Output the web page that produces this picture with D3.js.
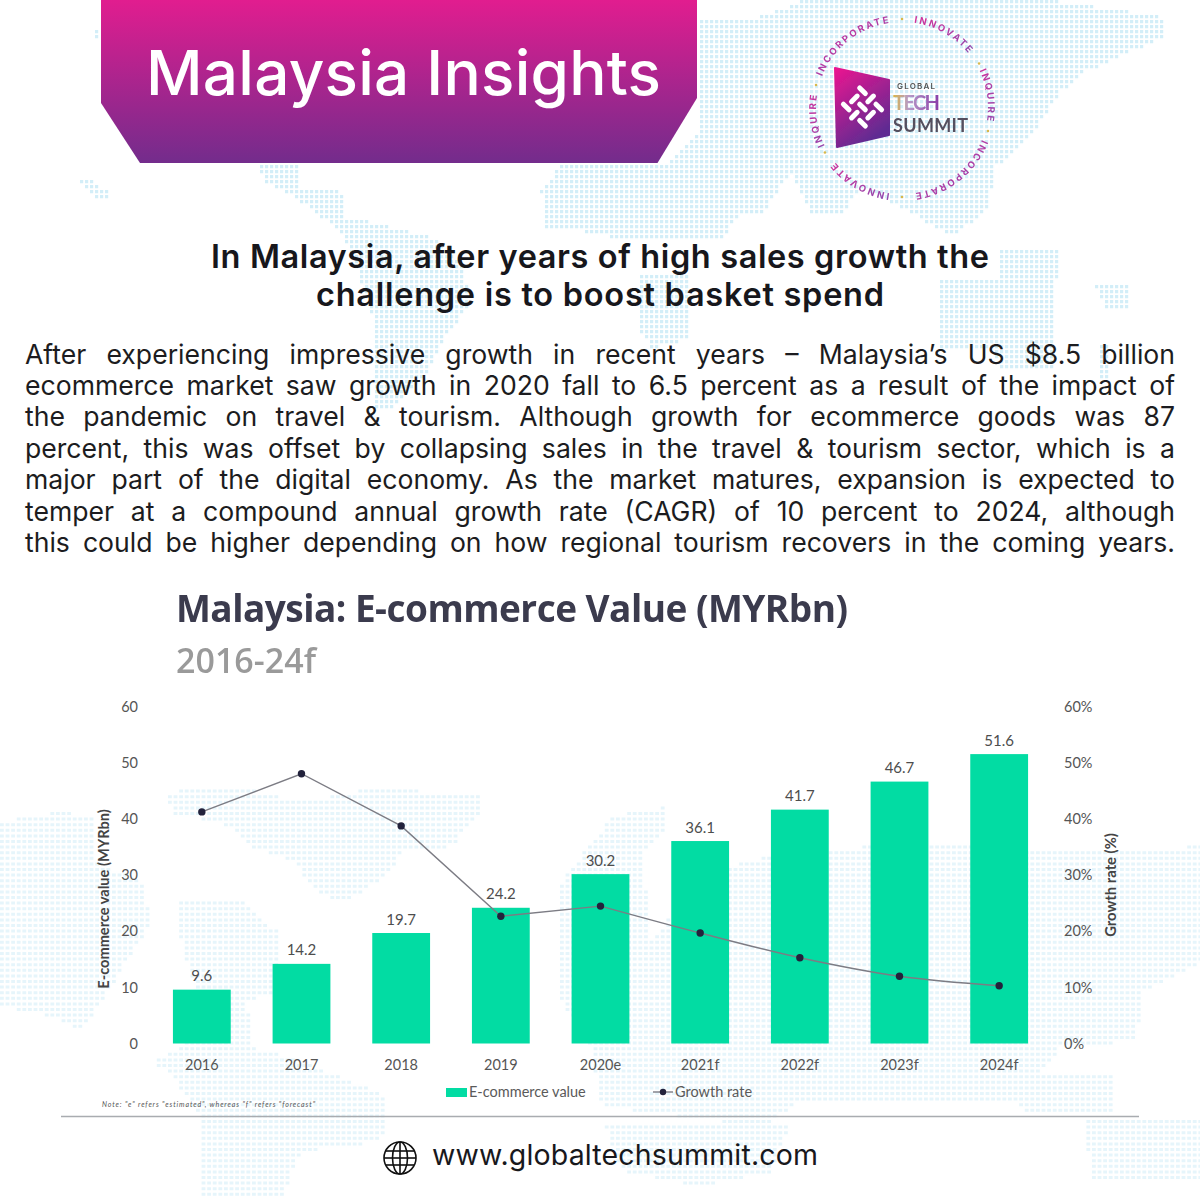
<!DOCTYPE html>
<html>
<head>
<meta charset="utf-8">
<title>Malaysia Insights</title>
<script src="https://cdn.jsdelivr.net/npm/d3@7"></script>
<style>
  html, body { margin: 0; padding: 0; background: #fff; }
  svg { display: block; }
  .axis path, .axis line { display: none; }
  .axis text { font-family: Lato, sans-serif; font-size: 14.5px; fill: #555; }
</style>
</head>
<body>
<svg id="chart" width="1200" height="1200"></svg>
<script>
// Chart values
const categories = ['2016', '2017', '2018', '2019', '2020e', '2021f', '2022f', '2023f', '2024f'];
const ecommerceValue = [9.6, 14.2, 19.7, 24.2, 30.2, 36.1, 41.7, 46.7, 51.6];
const growthRate = [41.3, 48.1, 38.8, 22.7, 24.5, 19.7, 15.3, 12.0, 10.3];
const leftTicks = [0, 10, 20, 30, 40, 50, 60];
const rightTicks = [0, 10, 20, 30, 40, 50, 60];

// Page text
const headingLines = [
    'In Malaysia, after years of high sales growth the',
    'challenge is to boost basket spend'
];
const bodyLines = [
    'After experiencing impressive growth in recent years \u2013 Malaysia\u2019s US $8.5 billion',
    'ecommerce market saw growth in 2020 fall to 6.5 percent as a result of the impact of',
    'the pandemic on travel & tourism. Although growth for ecommerce goods was 87',
    'percent, this was offset by collapsing sales in the travel & tourism sector, which is a',
    'major part of the digital economy. As the market matures, expansion is expected to',
    'temper at a compound annual growth rate (CAGR) of 10 percent to 2024, although',
    'this could be higher depending on how regional tourism recovers in the coming years.'
];
const ringWords = [
    ['INNOVATE', 30], ['INQUIRE', 82], ['INCORPORATE', 142],
    ['INNOVATE', 210], ['INQUIRE', 262], ['INCORPORATE', 322]
];
const ringDots = [0, 60, 105, 180, 240, 285];

// Dotted world map behind the page, rough outlines
const topMap = [
    [[698,20],[760,15],[800,0],[1060,0],[1160,15],[1165,35],[1130,50],[1085,70],[1060,90],[1040,120],[1020,145],[995,165],[985,210],[950,235],[900,205],[860,185],[840,215],[810,210],[790,170],[760,215],[740,210],[720,240],[660,235],[640,190],[698,130]],
    [[255,163],[300,165],[300,190],[340,190],[345,215],[370,220],[430,235],[460,260],[470,300],[445,335],[420,380],[390,410],[375,410],[375,330],[360,280],[340,230],[300,200],[265,180]],
    [[540,190],[560,163],[700,163],[700,240],[620,240],[600,232],[545,225]],
    [[640,275],[690,273],[690,337],[650,347],[640,330]],
    [[935,277],[1000,277],[1055,280],[1055,370],[1000,370],[990,347],[940,347]],
    [[1000,250],[1060,250],[1060,278],[1000,278]],
    [[1095,285],[1130,280],[1130,310],[1105,310]],
    [[1098,345],[1108,345],[1108,380],[1098,380]],
    [[75,176],[90,178],[110,192],[110,200],[95,200]],
    [[92,26],[98,26],[98,36],[92,36]]
];
const bottomMap = [
    [[0,820],[60,810],[90,815],[90,860],[140,880],[150,920],[100,1000],[80,1030],[50,1015],[0,1005]],
    [[165,790],[240,787],[300,800],[380,785],[440,793],[475,790],[480,810],[450,845],[400,850],[390,870],[345,900],[320,895],[290,860],[250,845],[220,820],[170,815]],
    [[176,897],[240,900],[275,930],[275,990],[245,1000],[250,1045],[300,1060],[385,1095],[380,1140],[300,1150],[280,1195],[200,1198],[200,1120],[170,1075],[150,1060],[180,1045],[200,1000],[180,950]],
    [[610,815],[665,805],[665,830],[640,850],[650,940],[700,870],[790,850],[950,840],[1060,850],[1200,845],[1200,960],[1140,990],[1135,1040],[1060,1045],[1010,1100],[800,1100],[760,1125],[640,1110],[600,1105],[590,1050],[560,1000],[560,880]],
    [[998,1070],[1112,1072],[1112,1110],[1020,1110]],
    [[1082,1120],[1200,1115],[1200,1180],[1090,1180]],
    [[603,1125],[787,1125],[770,1170],[700,1185],[620,1170]]
];

const svg = d3.select('#chart');
const defs = svg.append('defs');

function gradient(id, stops, x2, y2) {
    const g = defs.append('linearGradient')
        .attr('id', id)
        .attr('x1', 0).attr('y1', 0)
        .attr('x2', x2).attr('y2', y2);
    stops.forEach(s => g.append('stop').attr('offset', s[0]).attr('stop-color', s[1]));
}
gradient('bannerFill', [[0, '#e11d8f'], [1, '#732c8c']], 0, 1);
gradient('badgeFill', [[0, '#ec1590'], [1, '#5f2c92']], 0.5, 1);
gradient('techFill', [[0, '#d9b64a'], [0.35, '#b79ac8'], [1, '#8b3fa8']], 1, 0);
gradient('ringFill', [[0, '#d5309a'], [1, '#8d4cb0']], 1, 1);

defs.append('filter').attr('id', 'soft')
    .append('feGaussianBlur').attr('stdDeviation', 0.55);
defs.append('filter').attr('id', 'softer')
    .append('feGaussianBlur').attr('stdDeviation', 0.35);

svg.append('rect').attr('width', 1200).attr('height', 1200).attr('fill', '#fff');

// Background map: whole dots on a grid, kept where they fall inside an outline
function dotMap(polys, stepX, stepY, w, h, color) {
    let d = '';
    for (let gx = 0; gx < 1200; gx += stepX) {
        for (let gy = 0; gy < 1200; gy += stepY) {
            if (polys.some(p => d3.polygonContains(p, [gx, gy]))) {
                d += `M${gx},${gy}h${w}v${h}h${-w}Z`;
            }
        }
    }
    svg.append('path').attr('d', d).attr('fill', color);
}
dotMap(topMap, 5, 5, 3.2, 3.2, '#d3eef8');
dotMap(bottomMap, 5.6, 5.6, 3.8, 3, '#e6f5fb');

const polyPath = pts => 'M' + pts.map(p => p.join(',')).join('L') + 'Z';

// Stretch a single line of text to a given width
function fitLetters(sel, width) {
    const n = sel.text().length - 1;
    const w = sel.node().getComputedTextLength();
    sel.style('letter-spacing', `${(width - w) / n}px`);
    return sel;
}
function fitWords(sel, width) {
    const n = sel.text().split(' ').length - 1;
    const w = sel.node().getComputedTextLength();
    sel.style('word-spacing', `${(width - w) / n}px`);
    return sel;
}

// Banner
svg.append('path')
    .attr('d', polyPath([[101,0],[697,0],[697,98],[657.5,163],[140,163],[101,103]]))
    .attr('fill', 'url(#bannerFill)');
fitLetters(svg.append('text')
    .attr('x', 146).attr('y', 95)
    .attr('font-family', 'Inter, sans-serif')
    .attr('font-size', 62).attr('font-weight', 500)
    .attr('fill', '#fff')
    .text('Malaysia Insights'), 515);

// Logo
const logo = svg.append('g').attr('filter', 'url(#softer)');
logo.append('path')
    .attr('d', polyPath([[835,68],[889,80],[889,135],[837,147]]))
    .attr('fill', 'url(#badgeFill)')
    .attr('stroke', 'url(#badgeFill)')
    .attr('stroke-width', 2)
    .attr('stroke-linejoin', 'round');
const glyph = logo.append('g')
    .attr('transform', 'translate(862.5,107) rotate(45)')
    .attr('stroke', '#fff')
    .attr('stroke-linecap', 'round')
    .attr('stroke-width', 5);
d3.cross(d3.range(-1, 2), d3.range(-1, 2)).forEach(([i, j]) => {
    const flip = (i + j + 2) % 2 === 0;
    glyph.append('line')
        .attr('x1', i * 11.5 - (flip ? 4 : 0))
        .attr('x2', i * 11.5 + (flip ? 4 : 0))
        .attr('y1', j * 11.5 - (flip ? 0 : 4))
        .attr('y2', j * 11.5 + (flip ? 0 : 4));
});
fitLetters(logo.append('text').attr('x', 897).attr('y', 89)
    .attr('font-family', 'Inter, sans-serif').attr('font-size', 8).attr('font-weight', 600)
    .attr('fill', '#555').text('GLOBAL'), 38);
fitLetters(logo.append('text').attr('x', 893).attr('y', 110)
    .attr('font-family', '"Liberation Sans Narrow", Lato, sans-serif').attr('font-size', 20).attr('font-weight', 700)
    .attr('fill', 'url(#techFill)').text('TECH'), 47);
fitLetters(logo.append('text').attr('x', 893).attr('y', 131.5)
    .attr('font-family', '"Liberation Sans Narrow", Lato, sans-serif').attr('font-size', 18).attr('font-weight', 700)
    .attr('fill', '#55505f').text('SUMMIT'), 75);

// Ring of words round the logo
const ringR = 86;
const ringC = [902, 108];
defs.append('path').attr('id', 'ringPath')
    .attr('d', `M${ringC[0]},${ringC[1] - ringR}A${ringR},${ringR} 0 1 1 ${ringC[0] - 0.01},${ringC[1] - ringR}Z`);
const ring = logo.append('g');
ringWords.forEach(([word, angle]) => {
    ring.append('text')
        .attr('font-family', 'Inter, sans-serif')
        .attr('font-size', 9.5).attr('font-weight', 700)
        .attr('letter-spacing', 2.1)
        .attr('fill', 'url(#ringFill)')
        .attr('text-anchor', 'middle')
        .append('textPath')
        .attr('href', '#ringPath')
        .attr('startOffset', `${angle / 3.6}%`)
        .text(word);
});
ring.selectAll('circle').data(ringDots).enter().append('circle')
    .attr('cx', d => ringC[0] + (ringR + 3) * Math.sin(d * Math.PI / 180))
    .attr('cy', d => ringC[1] - (ringR + 3) * Math.cos(d * Math.PI / 180))
    .attr('r', 1.3)
    .attr('fill', '#d8b84c');

// Heading and body copy
const headingSpec = [[211, 268, 778], [316, 306, 568]];
headingLines.forEach((line, i) => {
    fitLetters(svg.append('text')
        .attr('x', headingSpec[i][0]).attr('y', headingSpec[i][1])
        .attr('font-family', 'Inter, sans-serif')
        .attr('font-size', 32.5).attr('font-weight', 600)
        .attr('fill', '#17171c')
        .text(line), headingSpec[i][2]);
});
bodyLines.forEach((line, i) => {
    fitWords(svg.append('text')
        .attr('x', 25).attr('y', 363.5 + i * 31.4)
        .attr('font-family', 'Inter, sans-serif')
        .attr('font-size', 26.6).attr('font-weight', 400)
        .attr('fill', '#1c1c20')
        .text(line), 1150);
});

// Chart title
fitLetters(svg.append('text')
    .attr('x', 176).attr('y', 622)
    .attr('font-family', '"Open Sans", sans-serif')
    .attr('font-size', 37).attr('font-weight', 700)
    .attr('fill', '#3a3a4e')
    .attr('filter', 'url(#soft)')
    .text('Malaysia: E-commerce Value (MYRbn)'), 672);
fitLetters(svg.append('text')
    .attr('x', 176).attr('y', 673)
    .attr('font-family', '"Open Sans", sans-serif')
    .attr('font-size', 34).attr('font-weight', 600)
    .attr('fill', '#9a9a9a')
    .attr('filter', 'url(#softer)')
    .text('2016-24f'), 140);

// Scales
const x = d3.scaleBand()
    .domain(categories)
    .range([152, 1049])
    .paddingInner(0.42)
    .paddingOuter(0.21);
const yValue = d3.scaleLinear().domain([0, 60]).range([1043.5, 707]);
const yGrowth = d3.scaleLinear().domain([0, 60]).range([1043.5, 707]);
const cx = d => x(d) + x.bandwidth() / 2;

// Bars and their labels
svg.append('g').selectAll('rect')
    .data(ecommerceValue).enter().append('rect')
    .attr('x', (d, i) => x(categories[i]))
    .attr('y', d => yValue(d))
    .attr('width', x.bandwidth())
    .attr('height', d => yValue(0) - yValue(d))
    .attr('fill', '#02dca3');
svg.append('g').selectAll('text')
    .data(ecommerceValue).enter().append('text')
    .attr('x', (d, i) => cx(categories[i]))
    .attr('y', d => yValue(d) - 8.5)
    .attr('text-anchor', 'middle')
    .attr('font-family', 'Lato, sans-serif')
    .attr('font-size', 15)
    .attr('fill', '#4d4d4d')
    .text(d => d.toFixed(1));

// Growth line: straight up to 2020e, slightly eased over the forecast years
const growthLinear = d3.line()
    .x(d => cx(d.cat)).y(d => yGrowth(d.val));
const growthCurved = d3.line()
    .x(d => cx(d.cat)).y(d => yGrowth(d.val))
    .curve(d3.curveMonotoneX);
const growthPoints = categories.map((cat, i) => ({ cat, val: growthRate[i] }));
svg.append('path')
    .attr('d', growthLinear(growthPoints.slice(0, 5)))
    .attr('fill', 'none').attr('stroke', '#7c7c84').attr('stroke-width', 1.4);
svg.append('path')
    .attr('d', growthCurved(growthPoints.slice(4)))
    .attr('fill', 'none').attr('stroke', '#7c7c84').attr('stroke-width', 1.4);
svg.append('g').selectAll('circle')
    .data(growthPoints).enter().append('circle')
    .attr('cx', d => cx(d.cat))
    .attr('cy', d => yGrowth(d.val))
    .attr('r', 3.7)
    .attr('fill', '#22223c');

// Axes
svg.append('g').attr('class', 'axis')
    .attr('transform', 'translate(138,0)')
    .call(d3.axisLeft(yValue).tickValues(leftTicks).tickSize(0).tickPadding(0));
svg.append('g').attr('class', 'axis')
    .attr('transform', 'translate(1064,0)')
    .call(d3.axisRight(yGrowth).tickValues(rightTicks).tickSize(0).tickPadding(0)
        .tickFormat(d => `${d}%`));
svg.append('g').attr('class', 'axis')
    .attr('transform', 'translate(0,1059.5)')
    .call(d3.axisBottom(x).tickSize(0).tickPadding(0));

svg.append('text')
    .attr('transform', 'translate(109,899) rotate(-90)')
    .attr('text-anchor', 'middle')
    .attr('font-family', 'Lato, sans-serif')
    .attr('font-size', 14.6).attr('font-weight', 700)
    .attr('fill', '#444')
    .text('E-commerce value (MYRbn)');
svg.append('text')
    .attr('transform', 'translate(1116,885) rotate(-90)')
    .attr('text-anchor', 'middle')
    .attr('font-family', 'Lato, sans-serif')
    .attr('font-size', 14.8).attr('font-weight', 700)
    .attr('fill', '#444')
    .text('Growth rate (%)');

// Legend
const legend = svg.append('g');
legend.append('rect')
    .attr('x', 446).attr('y', 1088).attr('width', 21).attr('height', 9)
    .attr('fill', '#02dca3');
legend.append('text').attr('x', 469).attr('y', 1097)
    .attr('font-family', 'Lato, sans-serif').attr('font-size', 14.5)
    .attr('fill', '#5a5a5a').text('E-commerce value');
legend.append('line')
    .attr('x1', 653).attr('x2', 673).attr('y1', 1092).attr('y2', 1092)
    .attr('stroke', '#7c7c84').attr('stroke-width', 1.4);
legend.append('circle').attr('cx', 663).attr('cy', 1092).attr('r', 3.2).attr('fill', '#22223c');
legend.append('text').attr('x', 675).attr('y', 1097)
    .attr('font-family', 'Lato, sans-serif').attr('font-size', 14.5)
    .attr('fill', '#5a5a5a').text('Growth rate');

// Note and rule
fitLetters(svg.append('text')
    .attr('x', 102).attr('y', 1107)
    .attr('font-family', 'Lato, sans-serif').attr('font-size', 7).attr('font-style', 'italic')
    .attr('fill', '#555')
    .text('Note: "e" refers "estimated", whereas "f" refers "forecast"'), 213);
svg.append('line')
    .attr('x1', 61).attr('x2', 1139).attr('y1', 1116.5).attr('y2', 1116.5)
    .attr('stroke', '#a9acb0').attr('stroke-width', 1.6);

// Footer
const globe = svg.append('g')
    .attr('transform', 'translate(400,1158)')
    .attr('fill', 'none').attr('stroke', '#111').attr('stroke-width', 1.6);
globe.append('circle').attr('r', 16);
globe.append('ellipse').attr('rx', 7.5).attr('ry', 16);
globe.append('line').attr('x1', -16).attr('x2', 16);
globe.append('line').attr('y1', -16).attr('y2', 16);
globe.append('line').attr('x1', -14).attr('x2', 14).attr('y1', -7).attr('y2', -7);
globe.append('line').attr('x1', -14).attr('x2', 14).attr('y1', 7).attr('y2', 7);
fitLetters(svg.append('text')
    .attr('x', 432).attr('y', 1165)
    .attr('font-family', 'Inter, sans-serif')
    .attr('font-size', 28.5).attr('font-weight', 400)
    .attr('fill', '#18181c')
    .text('www.globaltechsummit.com'), 386);
</script>
</body>
</html>
